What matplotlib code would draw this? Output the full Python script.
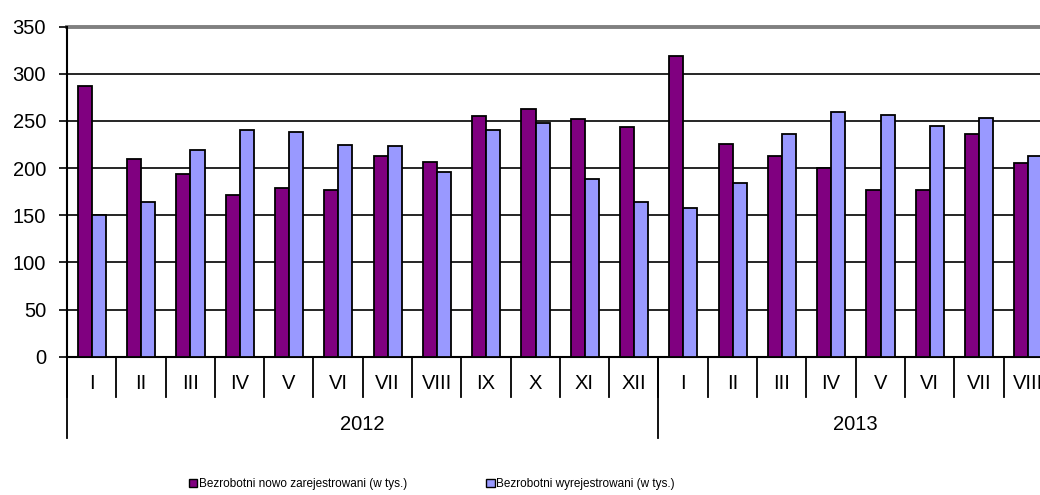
import matplotlib
matplotlib.use("Agg")
import matplotlib.pyplot as plt
import matplotlib.transforms as mtransforms
from matplotlib.patches import Patch

months = ["I", "II", "III", "IV", "V", "VI", "VII", "VIII", "IX", "X", "XI", "XII",
          "I", "II", "III", "IV", "V", "VI", "VII", "VIII"]
years = ["2012", "2013"]
year_counts = [12, 8]
registered = [287, 210, 194, 171, 179, 177, 213, 206, 255, 263, 252, 244,
              319, 226, 213, 200, 177, 177, 236, 205]
deregistered = [150, 164, 219, 240, 238, 225, 223, 196, 240, 248, 189, 164,
                158, 184, 236, 260, 256, 245, 253, 213]
series_names = ["Bezrobotni nowo zarejestrowani (w tys.)",
                "Bezrobotni wyrejestrowani (w tys.)"]
colors = ["#800080", "#9999FF"]
yticks = [0, 50, 100, 150, 200, 250, 300, 350]

plt.rcParams['font.family'] = ['Liberation Sans', 'DejaVu Sans']

W, H = 1040, 495
fig = plt.figure(figsize=(W / 100, H / 100), dpi=100)
cat_w = 49.29
left_px, top_px, bottom_px = 67, 26.7, 356.7
ax = fig.add_axes([left_px / W, (H - bottom_px) / H,
                   len(months) * cat_w / W, (bottom_px - top_px) / H])

n = len(months)
x = list(range(n))
bw = 0.285
ax.bar([i + 0.505 - bw / 2 for i in x], registered, width=bw, color=colors[0],
       edgecolor="black", linewidth=1.3, zorder=3)
ax.bar([i + 0.505 + bw / 2 for i in x], deregistered, width=bw, color=colors[1],
       edgecolor="black", linewidth=1.3, zorder=3)

ax.set_xlim(0, n)
ax.set_ylim(0, 350)
ax.set_yticks(yticks)
ax.set_yticklabels([str(v) for v in yticks], fontsize=14.5)
ax.tick_params(axis="y", length=6, width=1.2, pad=9, color="black")
ax.set_xticks([])

for v in yticks[1:-1]:
    ax.axhline(v, color="black", linewidth=1.2, zorder=1)
ax.axhline(350, color="#808080", linewidth=2.8, zorder=1, clip_on=False)

for s in ["top", "right"]:
    ax.spines[s].set_visible(False)
ax.spines["left"].set_linewidth(1.5)
ax.spines["bottom"].set_linewidth(1.5)

trans = mtransforms.blended_transform_factory(ax.transData, ax.transAxes)
ax_h_px = bottom_px - top_px
def yfrac(px_below):
    return -px_below / ax_h_px

# month separators and labels
for i in range(n + 1):
    ax.plot([i, i], [0, yfrac(40)], color="black", linewidth=1.3,
            transform=trans, clip_on=False)
for i, m in enumerate(months):
    ax.text(i + 0.5, yfrac(27), m, transform=trans, ha="center", va="center",
            fontsize=14.5)

# year separators and labels
bounds = [0]
for c in year_counts:
    bounds.append(bounds[-1] + c)
for b in bounds[:-1]:
    ax.plot([b, b], [0, yfrac(81)], color="black", linewidth=1.3,
            transform=trans, clip_on=False)
for yi, yr in enumerate(years):
    c = (bounds[yi] + bounds[yi + 1]) / 2
    ax.text(c, yfrac(68), yr, transform=trans, ha="center", va="center",
            fontsize=14.5)

handles = [Patch(facecolor=colors[0], edgecolor="black", linewidth=1.0),
           Patch(facecolor=colors[1], edgecolor="black", linewidth=1.0)]
fig.legend(handles, series_names, loc="center left",
           bbox_to_anchor=(189 / W, 1 - 484 / H), ncol=2, frameon=False,
           fontsize=8.5, handlelength=0.7, handleheight=0.75, handletextpad=0.15,
           columnspacing=6.7, borderpad=0, borderaxespad=0)

fig.savefig("out.png", dpi=100, facecolor="white")
